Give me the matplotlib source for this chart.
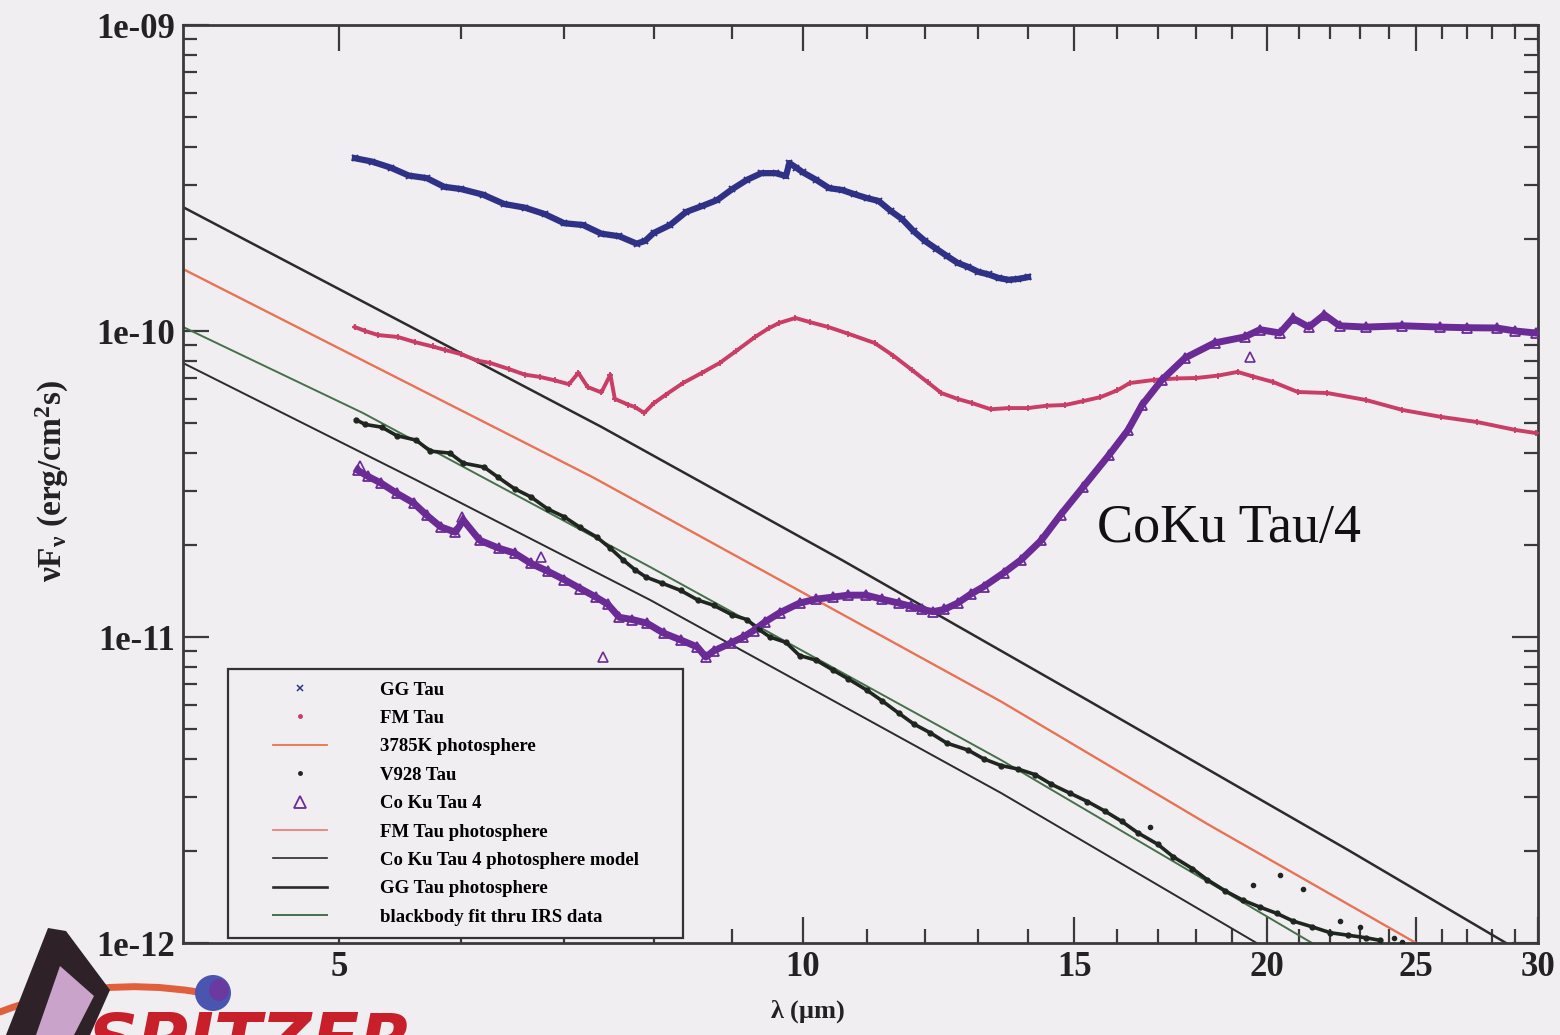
import matplotlib
matplotlib.use("Agg")
import matplotlib.pyplot as plt
import numpy as np
from matplotlib.ticker import FixedLocator, NullFormatter, LogLocator
from matplotlib.patches import Polygon, Ellipse, PathPatch
from matplotlib.path import Path
from matplotlib.lines import Line2D
from matplotlib.legend_handler import HandlerLine2D

plt.rcParams['font.family'] = ['Liberation Serif', 'DejaVu Serif']
plt.rcParams['mathtext.fontset'] = 'custom'
plt.rcParams['mathtext.rm'] = 'Liberation Serif:bold'
plt.rcParams['mathtext.it'] = 'Liberation Serif:bold'
plt.rcParams['mathtext.bf'] = 'Liberation Serif:bold'

# ---------------- IRS spectra (wavelength in micron) ----------------
# GG Tau, flux in units of 1e-10 erg/cm^2/s
gg_wl = [5.12, 5.25, 5.4, 5.55, 5.7, 5.85, 6.0, 6.2, 6.4, 6.6,
         6.8, 7.0, 7.2, 7.4, 7.6, 7.8, 7.9, 8.0, 8.2, 8.4,
         8.6, 8.8, 9.0, 9.2, 9.4, 9.6, 9.75, 9.8, 9.9, 10.0,
         10.2, 10.4, 10.6, 10.8, 11.0, 11.2, 11.4, 11.6, 11.8, 12.0,
         12.2, 12.4, 12.6, 12.8, 13.0, 13.2, 13.4, 13.6, 13.8, 14.0]
gg_flux = [3.67, 3.58, 3.42, 3.22, 3.16, 2.96, 2.91, 2.79, 2.60, 2.53,
           2.41, 2.25, 2.22, 2.08, 2.04, 1.93, 1.97, 2.09, 2.22, 2.45,
           2.56, 2.68, 2.91, 3.12, 3.28, 3.28, 3.21, 3.54, 3.42, 3.30,
           3.12, 2.93, 2.89, 2.80, 2.72, 2.66, 2.47, 2.32, 2.12, 1.97,
           1.86, 1.76, 1.67, 1.62, 1.56, 1.53, 1.49, 1.47, 1.48, 1.50]

# FM Tau, flux in units of 1e-10 erg/cm^2/s
fm_wl = [5.12, 5.2, 5.3, 5.46, 5.6, 5.75, 5.86, 6.0, 6.15, 6.27,
         6.45, 6.6, 6.75, 6.9, 7.05, 7.15, 7.25, 7.4, 7.5, 7.55,
         7.7, 7.78, 7.89, 8.0, 8.15, 8.36, 8.6, 8.83, 9.05, 9.31,
         9.5, 9.65, 9.89, 10.1, 10.39, 10.7, 11.13, 11.45, 11.77, 12.05,
         12.3, 12.6, 12.87, 13.24, 13.6, 14.0, 14.4, 14.8, 15.2, 15.6,
         16.0, 16.3, 16.9, 17.5, 18.0, 18.6, 19.15, 19.6, 20.2, 20.95,
         21.9, 23.2, 24.5, 25.95, 27.4, 29.0, 29.9]
fm_flux = [1.03, 1.00, 0.97, 0.956, 0.92, 0.89, 0.867, 0.84, 0.80, 0.786,
           0.75, 0.72, 0.708, 0.69, 0.67, 0.73, 0.656, 0.63, 0.72, 0.60,
           0.575, 0.564, 0.54, 0.58, 0.62, 0.676, 0.73, 0.786, 0.86, 0.956,
           1.02, 1.062, 1.103, 1.07, 1.03, 0.98, 0.914, 0.83, 0.746, 0.68,
           0.627, 0.60, 0.582, 0.555, 0.56, 0.56, 0.57, 0.573, 0.59, 0.608,
           0.64, 0.676, 0.692, 0.70, 0.702, 0.715, 0.735, 0.71, 0.681, 0.632,
           0.627, 0.595, 0.552, 0.524, 0.504, 0.475, 0.464]

# V928 Tau, flux in units of 1e-11 erg/cm^2/s
v928_wl = [5.13, 5.2, 5.33, 5.45, 5.61, 5.73, 5.9, 6.02, 6.21, 6.34,
           6.5, 6.66, 6.83, 7.0, 7.17, 7.35, 7.5, 7.64, 7.78, 7.91,
           8.1, 8.33, 8.55, 8.75, 9.0, 9.2, 9.36, 9.52, 9.75, 9.95,
           10.2, 10.46, 10.7, 11.0, 11.25, 11.54, 11.8, 12.1, 12.4, 12.8,
           13.1, 13.45, 13.8, 14.15, 14.5, 14.9, 15.3, 15.7, 16.1, 16.5,
           17.0, 17.4, 17.9, 18.3, 18.8, 19.3, 19.8, 20.3, 20.8, 21.4,
           22.0, 22.6, 23.2, 23.7]
v928_flux = [5.12, 4.95, 4.85, 4.55, 4.40, 4.05, 3.99, 3.70, 3.59, 3.33,
             3.05, 2.87, 2.62, 2.47, 2.28, 2.12, 1.95, 1.79, 1.66, 1.57,
             1.50, 1.42, 1.32, 1.27, 1.18, 1.14, 1.06, 1.00, 0.96, 0.87,
             0.84, 0.78, 0.73, 0.671, 0.62, 0.564, 0.52, 0.486, 0.45, 0.427,
             0.40, 0.38, 0.37, 0.355, 0.33, 0.309, 0.29, 0.27, 0.25, 0.229,
             0.21, 0.191, 0.175, 0.161, 0.148, 0.138, 0.131, 0.125, 0.118, 0.113,
             0.108, 0.106, 0.104, 0.102]
v928_scatter_wl = [16.8, 19.6, 20.4, 21.1, 22.3, 23.0, 24.2, 24.5]
v928_scatter_flux = [0.24, 0.155, 0.167, 0.15, 0.118, 0.113, 0.104, 0.101]

# CoKu Tau/4, flux in units of 1e-11 erg/cm^2/s
coku_wl = [5.14, 5.22, 5.32, 5.45, 5.59, 5.7, 5.82, 5.95, 6.02, 6.17,
           6.35, 6.5, 6.66, 6.83, 7.0, 7.17, 7.34, 7.47, 7.6, 7.75,
           7.92, 8.12, 8.33, 8.54, 8.65, 8.75, 8.98, 9.15, 9.29, 9.45,
           9.66, 9.95, 10.2, 10.46, 10.7, 10.99, 11.25, 11.54, 11.75, 11.95,
           12.15, 12.35, 12.6, 12.85, 13.1, 13.5, 13.86, 14.28, 14.7, 15.2,
           15.8, 16.26, 16.6, 17.1, 17.7, 18.5, 19.35, 19.8, 20.4, 20.8,
           21.3, 21.8, 22.3, 23.2, 24.5, 25.9, 27.0, 28.2, 29.0, 29.9]
coku_flux = [3.51, 3.35, 3.19, 2.95, 2.74, 2.50, 2.29, 2.20, 2.41, 2.07,
             1.95, 1.88, 1.74, 1.64, 1.54, 1.44, 1.35, 1.28, 1.16, 1.14,
             1.11, 1.03, 0.978, 0.928, 0.86, 0.90, 0.956, 1.00, 1.05, 1.12,
             1.20, 1.29, 1.33, 1.35, 1.37, 1.37, 1.33, 1.29, 1.26, 1.23,
             1.21, 1.23, 1.29, 1.38, 1.46, 1.62, 1.79, 2.07, 2.51, 3.09,
             3.93, 4.75, 5.73, 6.92, 8.16, 9.14, 9.56, 10.1, 9.85, 11.0,
             10.3, 11.3, 10.4, 10.3, 10.4, 10.3, 10.25, 10.23, 10.0, 9.85]
coku_scatter_wl = [5.16, 6.01, 6.76, 7.42, 19.5]
coku_scatter_flux = [3.63, 2.47, 1.83, 0.86, 8.2]

# ---------------- photospheric models, flux in units of 1e-10 ----------------
ph3785_wl = [3.96, 7.3, 13.45, 18.3, 25.0]
ph3785_flux = [1.594, 0.3334, 0.0615, 0.0245, 0.0100]
ggphot_wl = [3.96, 7.4, 10.6, 15.3, 22.6, 28.6]
ggphot_flux = [2.54, 0.486, 0.1785, 0.0622, 0.0201, 0.0100]
cokumodel_wl = [3.96, 5.61, 7.96, 13.45, 19.7]
cokumodel_flux = [0.786, 0.326, 0.1321, 0.0309, 0.0100]
bbfit_wl = [3.96, 5.18, 7.96, 13.45, 21.4]
bbfit_flux = [1.031, 0.540, 0.1693, 0.0396, 0.0100]

# axis ticks
x_major = [5, 10, 15, 20, 25, 30]
x_minor = [6, 7, 8, 9, 11, 12, 13, 14, 16, 17, 18, 19, 21, 22, 23, 24, 26, 27, 28, 29]
y_major = [1e-12, 1e-11, 1e-10, 1e-9]
y_labels = ['1e-12', '1e-11', '1e-10', '1e-09']

# ---------------- colours ----------------
BG = '#f0eef0'
C_GG = '#2f3187'
C_FM = '#c93d66'
C_RED = '#e9724f'
C_FMPH = '#ec7f7a'
C_V928 = '#1f2620'
C_COKU = '#6a2b96'
C_DARK = '#2b2b2b'
C_GREEN = '#45704a'

W, H = 1560, 1035
fig = plt.figure(figsize=(W / 100, H / 100), dpi=100, facecolor=BG)
ax = fig.add_axes([183 / W, 92 / H, 1355 / W, 918 / H])
ax.set_facecolor(BG)
ax.set_xscale('log')
ax.set_yscale('log')

e10 = 1e-10
e11 = 1e-11

# model curves
ax.plot(ggphot_wl, np.array(ggphot_flux) * e10, color=C_DARK, lw=1.8, zorder=2)
ax.plot(ph3785_wl, np.array(ph3785_flux) * e10, color=C_FMPH, lw=1.6, zorder=2)
ax.plot(ph3785_wl, np.array(ph3785_flux) * e10, color=C_RED, lw=1.3, zorder=2)
ax.plot(cokumodel_wl, np.array(cokumodel_flux) * e10, color=C_DARK, lw=1.4, zorder=2)
ax.plot(bbfit_wl, np.array(bbfit_flux) * e10, color=C_GREEN, lw=1.4, zorder=2)

# spectra: a trace plus the individual samples
gg = np.array(gg_flux) * e10
fm = np.array(fm_flux) * e10
v9 = np.array(v928_flux) * e11
ck = np.array(coku_flux) * e11

ax.plot(gg_wl, gg, color=C_GG, lw=4.5, zorder=3, solid_joinstyle='round')
ax.plot(gg_wl, gg, ls='none', marker='x', ms=5, mew=1.4, color=C_GG, zorder=4)

ax.plot(fm_wl, fm, color=C_FM, lw=2.8, zorder=3, solid_joinstyle='round')
ax.plot(fm_wl, fm, ls='none', marker='+', ms=5, mew=1.3, color=C_FM, zorder=4)

ax.plot(v928_wl, v9, color=C_V928, lw=2.6, zorder=3, solid_joinstyle='round')
ax.plot(v928_wl, v9, ls='none', marker='.', ms=7, color=C_V928, zorder=4)
ax.plot(v928_scatter_wl, np.array(v928_scatter_flux) * e11, ls='none',
        marker='.', ms=6, color=C_V928, zorder=4)

ax.plot(coku_wl, ck, color=C_COKU, lw=5.0, zorder=3, solid_joinstyle='round')
ax.plot(coku_wl, ck, ls='none', marker='^', ms=7, mfc='none', mew=1.3,
        color=C_COKU, zorder=4)
ax.plot(coku_scatter_wl, np.array(coku_scatter_flux) * e11, ls='none',
        marker='^', ms=7, mfc='none', mew=1.2, color=C_COKU, zorder=4)

ax.set_xlim(3.96, 30)
ax.set_ylim(1e-12, 1e-9)

# ticks
ax.xaxis.set_major_locator(FixedLocator(x_major))
ax.xaxis.set_minor_locator(FixedLocator(x_minor))
ax.set_xticklabels([str(v) for v in x_major])
ax.xaxis.set_minor_formatter(NullFormatter())
ax.yaxis.set_major_locator(FixedLocator(y_major))
ax.yaxis.set_minor_locator(LogLocator(base=10, subs=np.arange(2, 10)))
ax.set_yticklabels(y_labels)
ax.yaxis.set_minor_formatter(NullFormatter())

ax.tick_params(which='both', direction='in', top=True, right=True,
               color='#3a3a3a', width=1.6)
ax.tick_params(which='major', length=19, labelsize=25, pad=6)
ax.tick_params(which='minor', length=10)
for lab in ax.get_xticklabels() + ax.get_yticklabels():
    lab.set_fontweight('bold')
    lab.set_color('#222222')
for sp in ax.spines.values():
    sp.set_linewidth(2.0)
    sp.set_color('#3a3a3a')

ax.set_xlabel(r'$\lambda$ ($\mu$m)', fontsize=19, fontweight='bold', color='#222222')
ax.xaxis.set_label_coords(0.461, -0.060)
ax.set_ylabel(r'$\nu$F$_\nu$ (erg/cm$^2$s)', fontsize=24, fontweight='bold', color='#222222')
ax.yaxis.set_label_coords(-0.083, 0.503)

ax.text(0.6745, 0.4368, 'CoKu Tau/4', transform=ax.transAxes, fontsize=39,
        ha='left', va='baseline', color='#111111')

# legend: handles sit in the middle of a wide handle box
LEG_FS = 13.5
handler = HandlerLine2D(xpad=1.72)
handles = [
    Line2D([], [], ls='none', marker='x', ms=4, mew=1.1, color=C_GG),
    Line2D([], [], ls='none', marker='.', ms=5, color=C_FM),
    Line2D([], [], color=C_RED, lw=1.3),
    Line2D([], [], ls='none', marker='.', ms=5, color=C_V928),
    Line2D([], [], ls='none', marker='^', ms=9, mfc='none', mew=1.3, color=C_COKU),
    Line2D([], [], color=C_FMPH, lw=1.3),
    Line2D([], [], color=C_DARK, lw=1.2),
    Line2D([], [], color=C_DARK, lw=1.9),
    Line2D([], [], color=C_GREEN, lw=1.4),
]
labels = ['GG Tau', 'FM Tau', '3785K photosphere', 'V928 Tau', 'Co Ku Tau 4',
          'FM Tau photosphere', 'Co Ku Tau 4 photosphere model',
          'GG Tau photosphere', 'blackbody fit thru IRS data']
leg = ax.legend(handles, labels, loc='lower left',
                bbox_to_anchor=(0.033, 0.005, 0.336, 0.295), mode='expand',
                prop={'family': 'Liberation Serif', 'weight': 'bold', 'size': LEG_FS},
                labelspacing=0.60, handlelength=4.6, handletextpad=2.83,
                borderpad=0.68, borderaxespad=0, fancybox=False, framealpha=1,
                facecolor=BG, edgecolor='#333333',
                handler_map={Line2D: handler})
leg.get_frame().set_linewidth(1.6)
leg.set_zorder(6)


# Spitzer emblem in the lower-left corner (pixel positions -> figure fraction)
def fpts(pts):
    return [[x / W, 1 - y / H] for x, y in pts]


swoosh = Path(fpts([(0, 1012), (95, 975), (198, 992)]),
              [Path.MOVETO, Path.CURVE3, Path.CURVE3])
fig.patches.append(PathPatch(swoosh, transform=fig.transFigure, fill=False,
                             edgecolor='#e0603e', lw=5, capstyle='round'))
fig.patches.append(Polygon(fpts([(6, 1035), (48, 928), (66, 931), (110, 990), (90, 1035)]),
                           closed=True, transform=fig.transFigure,
                           facecolor='#2e2228', edgecolor='none'))
fig.patches.append(Polygon(fpts([(36, 1035), (60, 966), (94, 996), (74, 1035)]),
                           closed=True, transform=fig.transFigure,
                           facecolor='#c9a3c9', edgecolor='none'))
fig.patches.append(Ellipse((213 / W, 1 - 993 / H), 36 / W, 36 / H,
                           transform=fig.transFigure,
                           facecolor='#4a55b0', edgecolor='none'))
fig.patches.append(Ellipse((219 / W, 1 - 990 / H), 20 / W, 22 / H,
                           transform=fig.transFigure,
                           facecolor='#6a3aa0', edgecolor='none'))
fig.text(88 / W, -28 / H, 'SPITZER', fontsize=50, fontweight='bold', style='italic',
         family='DejaVu Sans', color='#c8202a', ha='left', va='baseline')

fig.savefig('out.png', dpi=100, facecolor=BG)
